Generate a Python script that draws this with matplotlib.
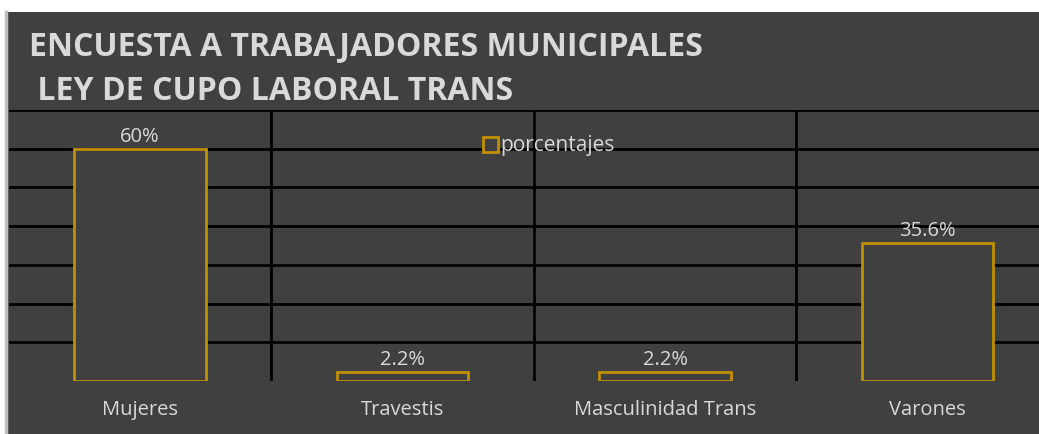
import matplotlib

matplotlib.use("Agg")
import matplotlib.pyplot as plt
from matplotlib.patches import Rectangle, Patch
from matplotlib.lines import Line2D

# data
categorias = ["Mujeres", "Travestis", "Masculinidad Trans", "Varones"]
porcentajes = [60, 2.2, 2.2, 35.6]
etiquetas = ["60%", "2.2%", "2.2%", "35.6%"]
serie = "porcentajes"

FONDO = "#404040"
TEXTO = "#d9d9d9"
DORADO = "#c09000"

plt.rcParams["font.family"] = ["Open Sans", "DejaVu Sans"]

W, H = 1039, 434
fig = plt.figure(figsize=(W / 100, H / 100), dpi=100, facecolor="white")

# dark chart panel with a light border on the left, like the pasted excel chart
fig.patches.append(Rectangle((5 / W, 0), 1.0, (H - 12) / H, transform=fig.transFigure,
                             facecolor=FONDO, edgecolor="none", zorder=-10))
fig.lines.append(Line2D([6 / W, 6 / W], [0, (H - 12) / H], transform=fig.transFigure,
                        color="#bfbfbf", linewidth=2.5, zorder=-9))

fig.text(29 / W, 1 - 47 / H, "ENCUESTA A TRABAJADORES MUNICIPALES", color=TEXTO,
         fontsize=23, fontweight="bold", va="center", ha="left")
fig.text(29 / W, 1 - 91 / H, " LEY DE CUPO LABORAL TRANS", color=TEXTO,
         fontsize=23, fontweight="bold", va="center", ha="left")

# axes runs past the right edge, the picture is cropped there
ax = fig.add_axes([8.75 / W, 53 / H, 1050 / W, 271 / H])
ax.set_facecolor("none")

x = range(len(categorias))
bars = ax.bar(x, porcentajes, width=0.5, facecolor=FONDO, edgecolor=DORADO,
              linewidth=2, label=serie, zorder=3)
ax.bar_label(bars, labels=etiquetas, padding=1.5, color=TEXTO, fontsize=14.5)

ax.set_xlim(-0.5, 3.5)
ax.set_ylim(0, 70)
ax.set_yticks(range(10, 71, 10))
ax.set_xticks(list(x))
ax.set_xticklabels(categorias, color=TEXTO, fontsize=14.5)
ax.set_xticks([0.5, 1.5, 2.5], minor=True)
ax.tick_params(axis="both", which="both", length=0, pad=14)
ax.set_yticklabels([])
ax.grid(axis="y", which="major", color="black", linewidth=2)
ax.grid(axis="x", which="minor", color="black", linewidth=2)
ax.set_axisbelow(True)
for s in ax.spines.values():
    s.set_visible(False)

handle = Patch(facecolor=FONDO, edgecolor=DORADO, linewidth=2)
ax.legend([handle], [serie], loc="center", bbox_to_anchor=(540 / 1050, 1 - 36 / 271),
          frameon=False, fontsize=15, handlelength=0.75, handleheight=0.75,
          handletextpad=0.1, labelcolor=TEXTO)

fig.savefig("out.png", dpi=100, facecolor="white")
